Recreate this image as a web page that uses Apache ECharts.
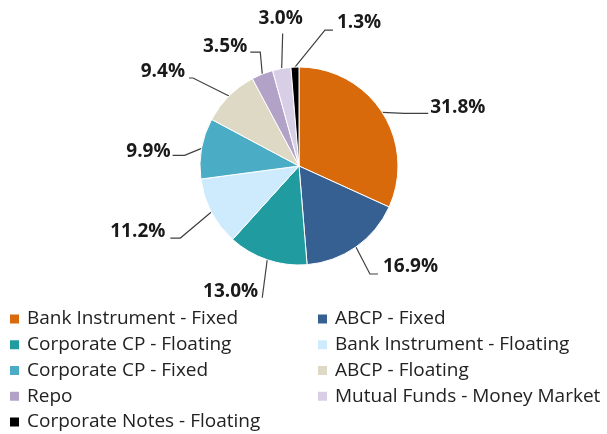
<!DOCTYPE html>
<html><head><meta charset="utf-8">
<script src="https://cdn.jsdelivr.net/npm/echarts@6/dist/echarts.min.js"></script>
<style>html,body{margin:0;padding:0;background:#fff}#c{width:607px;height:434px}</style>
</head><body><div id="c"></div>
<script>
const categories = ["Bank Instrument - Fixed","ABCP - Fixed","Corporate CP - Floating","Bank Instrument - Floating","Corporate CP - Fixed","ABCP - Floating","Repo","Mutual Funds - Money Market","Corporate Notes - Floating"];
const values = [31.8,16.9,13.0,11.2,9.9,9.4,3.5,3.0,1.3];
const colors = ["#D96A0C","#376092","#209BA0","#CDEBFC","#4BACC6","#DDD9C4","#B2A2C8","#D8CFE6","#000000"];

// Leader-line geometry per label, relative to the slice's outer anchor point:
// elbow offset, end offset, text offset, text alignment (manual label placement)
const labelPlacement = [
  {elbow:[22,1],  end:[46,1],   text:[48,-5],  align:'left'},
  {elbow:[14,27], end:[22,27],  text:[27,20],  align:'left'},
  {elbow:[-5,38], end:[-5,38],  text:[-9,32],  align:'right'},
  {elbow:[-31,26],end:[-41,26], text:[-46,20], align:'right'},
  {elbow:[-17,7], end:[-29,7],  text:[-31,3],  align:'right'},
  {elbow:[-36,-18],end:[-40,-18],text:[-44,-24],align:'right'},
  {elbow:[-2,-22],end:[-12,-22],text:[-15,-27],align:'right'},
  {elbow:[1,-35], end:[1,-35],  text:[-1,-50], align:'center'},
  {elbow:[30,-37],end:[38,-37], text:[42,-44], align:'left'}
];

const chart = echarts.init(document.getElementById('c'));
const data = categories.map((n,i)=>({name:n, value:values[i], itemStyle:{color:colors[i]}}));
const legendText = {fontFamily:'Open Sans', fontSize:19, color:'#222', lineHeight:20, padding:[0,0,0,2]};
const legendBase = {orient:'vertical', top:309, padding:0, itemWidth:11, itemHeight:11, itemGap:5.75,
  icon:'rect', textStyle:legendText, selectedMode:false};
chart.setOption({
  animation:false,
  legend:[
    Object.assign({left:8, data:categories.filter((c,i)=>i%2===0)}, legendBase),
    Object.assign({left:316, data:categories.filter((c,i)=>i%2===1)}, legendBase)
  ],
  series:[{
    type:'pie', center:[299,166], radius:99, startAngle:90, clockwise:true,
    itemStyle:{borderColor:'#fff', borderWidth:1},
    label:{show:true, position:'outside', formatter:p=>p.value.toFixed(1)+'%',
      fontFamily:'Open Sans', fontWeight:'bold', fontSize:19, color:'#1a1a1a',
      textBorderColor:'#fff', textBorderWidth:2},
    labelLine:{show:true, length:14, length2:22, lineStyle:{color:'#404040', width:1.2}},
    labelLayout:function(p){
      const a = p.labelLinePoints[0];
      const g = labelPlacement[p.dataIndex];
      return {
        x:a[0]+g.text[0], y:a[1]+g.text[1], align:g.align, verticalAlign:'middle',
        labelLinePoints:[[a[0],a[1]],[a[0]+g.elbow[0],a[1]+g.elbow[1]],[a[0]+g.end[0],a[1]+g.end[1]]]
      };
    },
    data:data
  }]
});
</script></body></html>
